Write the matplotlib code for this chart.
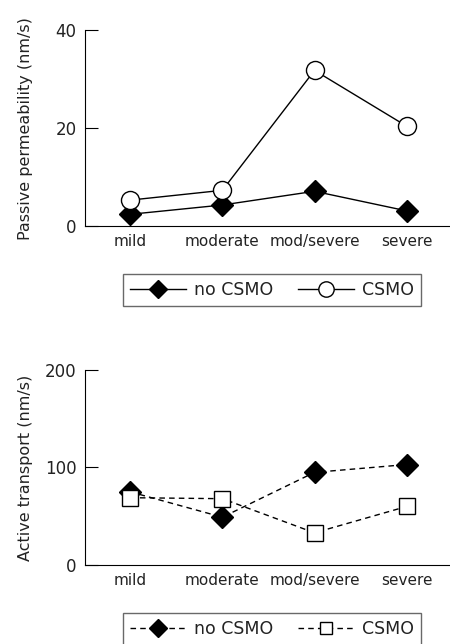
import numpy as np
import matplotlib
matplotlib.use('Agg')
import matplotlib.pyplot as plt

categories = ['mild', 'moderate', 'mod/severe', 'severe']
passive_no_csmo = [2.4, 4.3, 7.1, 3.1]
passive_csmo = [5.3, 7.3, 31.8, 20.4]
active_no_csmo = [75, 49, 95, 103]
active_csmo = [69, 68, 33, 60]

plt.rcParams['font.family'] = ['DejaVu Sans']
plt.rcParams['font.size'] = 11
txt = '#222222'

fig = plt.figure(figsize=(4.5, 6.44), dpi=100)
ax1 = fig.add_axes([0.189, 0.649, 0.811, 0.304])
ax2 = fig.add_axes([0.189, 0.1227, 0.811, 0.3028])

x = np.arange(len(categories))

ax1.plot(x, passive_no_csmo, '-', color='k', lw=1, marker='D', ms=11,
         mfc='k', mec='k', label='no CSMO')
ax1.plot(x, passive_csmo, '-', color='k', lw=1, marker='o', ms=13,
         mfc='white', mec='k', mew=1, label='CSMO')
ax1.set_ylim(0, 40)
ax1.set_yticks([0, 20, 40])
ax1.set_ylabel('Passive permeability (nm/s)', color=txt, fontsize=11.5,
               labelpad=16)

ax2.plot(x, active_no_csmo, '--', color='k', lw=1, marker='D', ms=11,
         mfc='k', mec='k', label='no CSMO', dashes=(4, 3))
ax2.plot(x, active_csmo, '--', color='k', lw=1, marker='s', ms=11,
         mfc='white', mec='k', mew=1, label='CSMO', dashes=(4, 3))
ax2.set_ylim(0, 200)
ax2.set_yticks([0, 100, 200])
ax2.set_ylabel('Active transport (nm/s)', color=txt, fontsize=11.5,
               labelpad=9)

for ax in (ax1, ax2):
    ax.set_xlim(-0.49, 3.47)
    ax.set_xticks(x)
    ax.set_xticklabels(categories, color=txt)
    ax.tick_params(axis='x', length=0, pad=6)
    ax.tick_params(axis='y', direction='in', length=9.5, colors='k',
                   labelcolor=txt, pad=6, labelsize=12)
    for s in ('top', 'right'):
        ax.spines[s].set_visible(False)
    for ln in ax.lines:
        ln.set_clip_on(False)

for ax, anchor in ((ax1, 1 - 274 / 644), (ax2, 1 - 613 / 644)):
    leg = fig.legend(*ax.get_legend_handles_labels(), ncol=2,
                     loc='upper center', bbox_to_anchor=(0.605, anchor),
                     borderaxespad=0, markerscale=0.85,
                     frameon=True, fancybox=False, edgecolor='#444444',
                     handlelength=3.2, columnspacing=1.4, handletextpad=0.5,
                     borderpad=0.4, fontsize=12.5)
    leg.get_frame().set_linewidth(1)
    for t in leg.get_texts():
        t.set_color(txt)

fig.savefig('out.png', dpi=100)
